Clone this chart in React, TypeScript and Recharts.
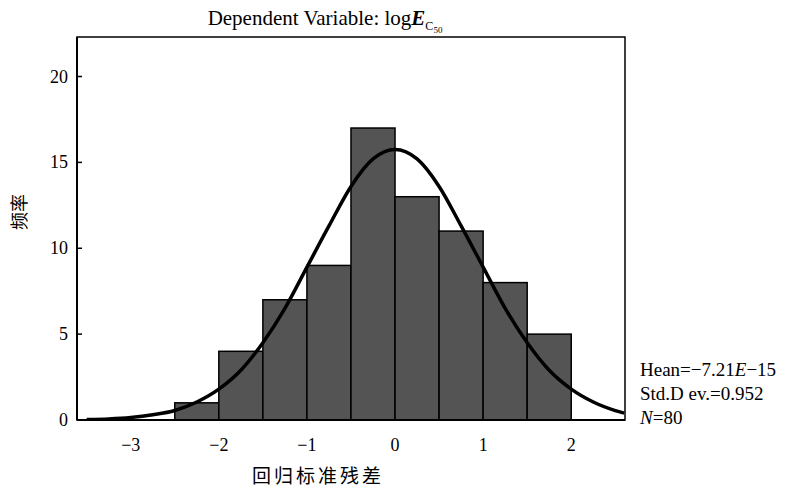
import { ComposedChart, Bar, Line, XAxis, YAxis, ReferenceArea } from 'recharts'

// histogram bins (centre of each 0.5-wide bin) and their counts
const binCenters = [-2.25, -1.75, -1.25, -0.75, -0.25, 0.25, 0.75, 1.25, 1.75]
const binCounts = [1, 4, 7, 9, 17, 13, 11, 8, 5]
const binWidth = 0.5

// fitted normal curve
const curveX = [
  -3.5, -3.25, -3, -2.75, -2.5, -2.25, -2, -1.75, -1.5, -1.25, -1, -0.75, -0.5, -0.25,
  0, 0.25, 0.5, 0.75, 1, 1.25, 1.5, 1.75, 2, 2.25, 2.5, 2.6,
]
const curveY = [
  0.03, 0.06, 0.14, 0.3, 0.55, 1.05, 1.8, 2.9, 4.5, 6.5, 8.9, 11.3, 13.6, 15.2,
  15.75, 15.2, 13.6, 11.3, 8.9, 6.5, 4.5, 2.9, 1.8, 1.05, 0.55, 0.4,
]

const xTicks = [-3, -2, -1, 0, 1, 2]
const yTicks = [0, 5, 10, 15, 20]
const xDomain: [number, number] = [-3.61, 2.61]
const yDomain: [number, number] = [0, 22.3]

const bins = binCenters.map((x, i) => ({ x, count: binCounts[i] }))
const curve = curveX.map((x, i) => ({ x, curve: curveY[i] }))

const W = 792
const H = 487
const margin = { top: 37, right: 167, bottom: 37, left: 0 }
const yAxisW = 77
const xAxisH = 30
const plotW = W - margin.left - margin.right - yAxisW
// pixel width of one bin on the x scale
const binPx = (plotW * binWidth) / (xDomain[1] - xDomain[0])

const serif = '"Liberation Serif", "Times New Roman", serif'
const cjk = '"Noto Sans CJK SC", sans-serif'

function YTick(props: any) {
  const { x, y, payload } = props
  return (
    <g>
      <text x={x} y={y} dy={6} textAnchor="end" fontFamily={serif} fontSize={18} fill="#000">
        {payload.value}
      </text>
      <line x1={x + 9} x2={x + 14} y1={y} y2={y} stroke="#000" strokeWidth={1.5} />
    </g>
  )
}

// full-bin-width rectangle centred on the bar position recharts gives
function BinBar(props: any) {
  const { x, y, width, height } = props
  const cx = x + width / 2
  return (
    <rect
      x={cx - binPx / 2}
      y={y}
      width={binPx}
      height={height}
      fill="#545454"
      stroke="#000"
      strokeWidth={1.5}
    />
  )
}

export default function App() {
  return (
    <div style={{ position: 'absolute', left: 0, top: 0, width: W, height: H, background: '#fff' }}>
      <ComposedChart width={W} height={H} data={bins} margin={margin}>
        <XAxis
          dataKey="x"
          type="number"
          domain={xDomain}
          ticks={xTicks}
          allowDataOverflow
          height={xAxisH}
          tickLine={false}
          tickMargin={12}
          axisLine={{ stroke: '#000', strokeWidth: 2 }}
          tick={{ fill: '#000', fontSize: 18, fontFamily: serif }}
          tickFormatter={(v: number) => (v < 0 ? '\u2212' + Math.abs(v) : String(v))}
        />
        <YAxis
          type="number"
          domain={yDomain}
          ticks={yTicks}
          allowDataOverflow
          width={yAxisW}
          tickLine={false}
          tickSize={0}
          tickMargin={9}
          axisLine={{ stroke: '#000', strokeWidth: 2 }}
          tick={<YTick />}
        />
        <Bar dataKey="count" shape={<BinBar />} isAnimationActive={false} />
        <Line
          data={curve}
          dataKey="curve"
          type="monotone"
          stroke="#000"
          strokeWidth={3.5}
          dot={false}
          activeDot={false}
          isAnimationActive={false}
        />
        <ReferenceArea
          x1={xDomain[0]}
          x2={xDomain[1]}
          y1={yDomain[0]}
          y2={yDomain[1]}
          fill="none"
          stroke="#000"
          strokeWidth={1.5}
        />
      </ComposedChart>
      <div
        style={{
          position: 'absolute', left: 0, width: 650, top: 6, textAlign: 'center',
          fontFamily: serif, fontSize: 21, lineHeight: '24px', color: '#000', whiteSpace: 'nowrap',
        }}
      >
        Dependent Variable: log<i><b>E</b></i>
        <sub style={{ fontSize: 12, color: '#000' }}>
          C<sub style={{ fontSize: 9, color: '#000' }}>50</sub>
        </sub>
      </div>
      <div
        style={{
          position: 'absolute', left: 18, top: 212, transform: 'translate(-50%, -50%) rotate(-90deg)',
          fontFamily: cjk, fontSize: 18, lineHeight: 1, color: '#000', whiteSpace: 'nowrap',
        }}
      >
        频率
      </div>
      <div
        style={{
          position: 'absolute', left: 318, top: 474, transform: 'translate(-50%, -50%)',
          fontFamily: cjk, fontSize: 19, lineHeight: 1, letterSpacing: 3, color: '#000', whiteSpace: 'nowrap',
        }}
      >
        回归标准残差
      </div>
      <div
        style={{
          position: 'absolute', left: 640, top: 358, fontFamily: serif, fontSize: 19,
          lineHeight: '24px', color: '#000', whiteSpace: 'nowrap',
        }}
      >
        <div>Hean=&minus;7.21<i>E</i>&minus;15</div>
        <div>Std.D ev.=0.952</div>
        <div><i>N</i>=80</div>
      </div>
    </div>
  )
}
